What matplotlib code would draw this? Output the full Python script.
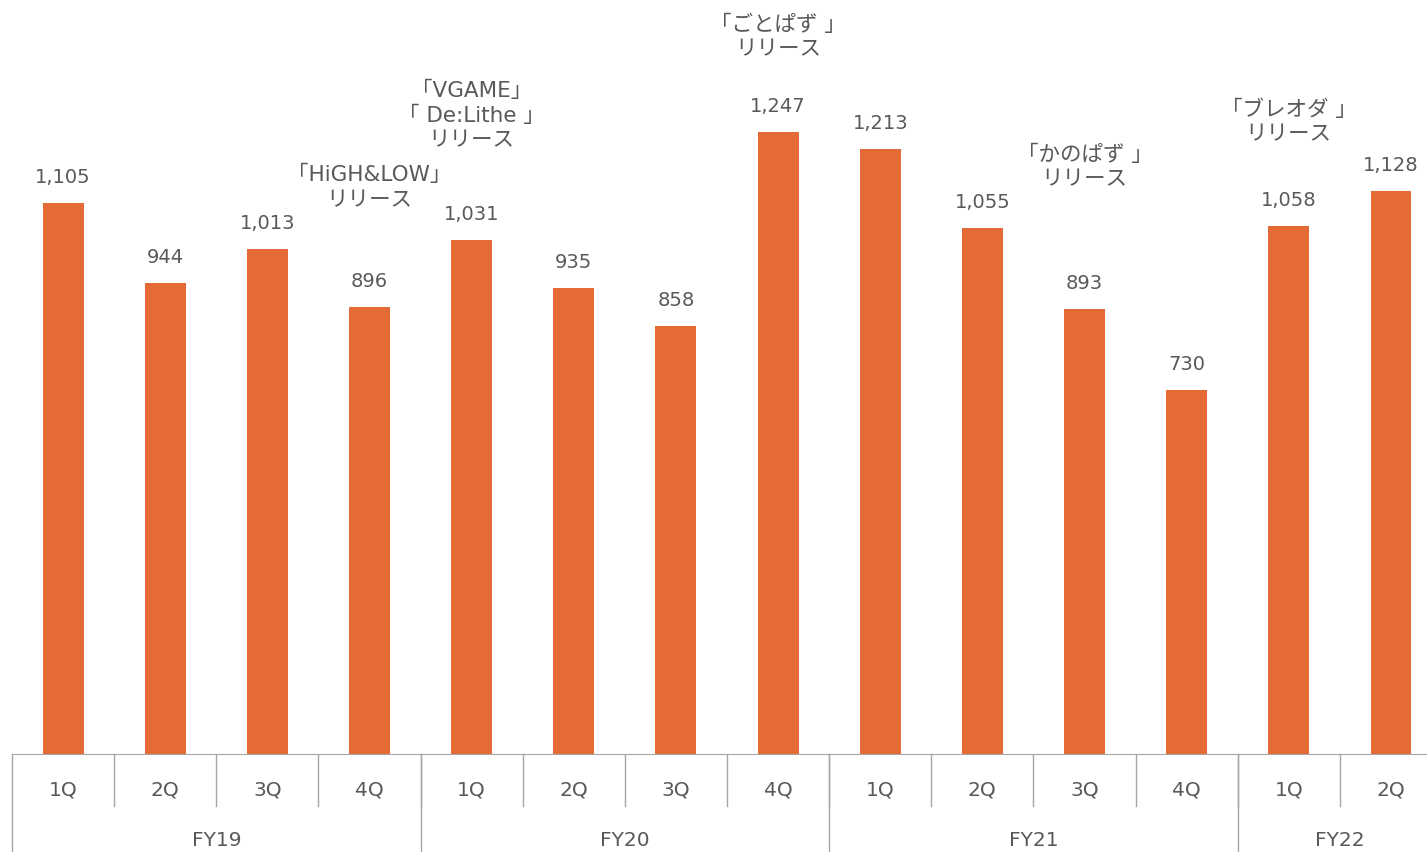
import numpy as np
import matplotlib
matplotlib.use("Agg")
import matplotlib.pyplot as plt
import matplotlib.transforms as mtransforms

plt.rcParams['font.family'] = ['DejaVu Sans', 'Noto Sans CJK JP']

# data
quarters = ["1Q", "2Q", "3Q", "4Q", "1Q", "2Q", "3Q", "4Q", "1Q", "2Q", "3Q", "4Q", "1Q", "2Q"]
years = ["FY19", "FY20", "FY21", "FY22"]
year_sizes = [4, 4, 4, 2]
values = [1105, 944, 1013, 896, 1031, 935, 858, 1247, 1213, 1055, 893, 730, 1058, 1128]

notes = ["「HiGH&LOW」\nリリース", "「VGAME」\n「 De:Lithe 」\nリリース", "「ごとぱず 」\nリリース",
         "「かのぱず 」\nリリース", "「ブレオダ 」\nリリース"]
note_x = [3, 4, 7, 10, 12]
note_y = [1136, 1280, 1438, 1177, 1268]

BAR = "#E56B36"
TXT = "#595959"
LINE = "#A6A6A6"

W, H = 1427, 852
fig = plt.figure(figsize=(W / 100, H / 100), dpi=100)
ax = fig.add_axes([12 / W, (H - 754) / H, 1430 / W, 754 / H])

x = np.arange(len(values))
ax.bar(x, values, width=0.4, color=BAR, zorder=2)
ax.set_xlim(-0.5, len(values) - 0.5)
ax.set_ylim(0, 1512)

for xi, v in zip(x, values):
    ax.annotate(f"{v:,}", (xi, v), xytext=(0, 16), textcoords="offset pixels",
                ha="center", va="bottom", fontsize=14, color=TXT)

for nx, ny, t in zip(note_x, note_y, notes):
    ax.text(nx, ny, t, ha="center", va="center", fontsize=15.5, color=TXT,
            linespacing=1.28)

# axes styling
for s in ["top", "right", "left"]:
    ax.spines[s].set_visible(False)
ax.spines["bottom"].set_color(LINE)
ax.set_xticks([])
ax.set_yticks([])

# two-level category axis
trans = mtransforms.blended_transform_factory(ax.transData, ax.transAxes)
q_low = -(806 - 754) / 754
y_low = -(852 - 754) / 754
for i in range(1, len(values)):
    ax.plot([i - 0.5, i - 0.5], [0, q_low], transform=trans, color=LINE, lw=1, clip_on=False)
start = 0
bounds = [0]
for size in year_sizes:
    start += size
    bounds.append(start)
for b in bounds:
    ax.plot([b - 0.5, b - 0.5], [0, y_low], transform=trans, color=LINE, lw=1, clip_on=False)

for xi, q in zip(x, quarters):
    ax.text(xi, -(790 - 754) / 754, q, transform=trans, ha="center", va="center",
            fontsize=14.5, color=TXT)
for k, yr in enumerate(years):
    mid = (bounds[k] + bounds[k + 1] - 1) / 2
    ax.text(mid, -(840 - 754) / 754, yr, transform=trans, ha="center", va="center",
            fontsize=14.5, color=TXT)

fig.savefig("out.png", dpi=100)
